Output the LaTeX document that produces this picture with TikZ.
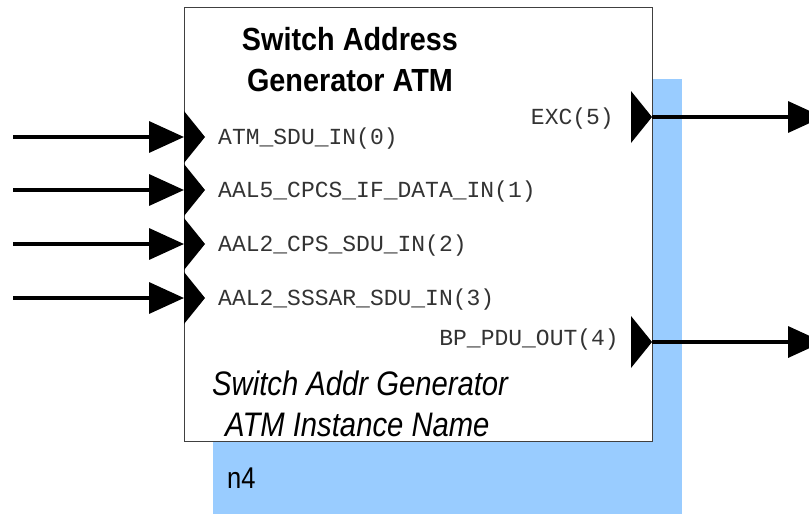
\documentclass[tikz,border=0pt]{standalone}
\usepackage{fontspec}
\setmainfont{Liberation Sans}
\setmonofont{Liberation Mono}
\usetikzlibrary{arrows.meta}
\definecolor{shadowblue}{HTML}{99CCFF}
\definecolor{boxgray}{HTML}{404040}
\newcommand{\portfont}[1]{{\fontsize{23}{23}\selectfont\ttfamily #1}}
\tikzset{
  wire/.style={line width=3.5pt, -{Triangle[length=35pt,width=31pt]}},
  portlbl/.style={text=black!80, inner sep=0pt},
  porttri/.style={fill=black},
}
\begin{document}
\begin{tikzpicture}[x=1pt,y=-1pt]
\useasboundingbox (0,0) rectangle (809,514);
% shadow and box
\node[fill=shadowblue, minimum width=469pt, minimum height=435pt, inner sep=0pt] (shadow) at (447.5,296.5) {};
\node[draw=boxgray, line width=0.8pt, fill=white, minimum width=468pt, minimum height=434pt, inner sep=0pt] (box) at (418,224) {};
% title
\node[inner sep=0pt, align=center] (title1) at (350,39) {\scalebox{0.9}[1]{\fontsize{32}{32}\selectfont\bfseries Switch Address}};
\node[inner sep=0pt, align=center] (title2) at (350,80) {\scalebox{0.9}[1]{\fontsize{32}{32}\selectfont\bfseries Generator ATM}};
% instance name
\node[inner sep=0pt, anchor=base west] (inst1) at (212,395) {\scalebox{0.86}[1]{\fontsize{34}{34}\selectfont\itshape Switch Addr Generator}};
\node[inner sep=0pt, anchor=base west] (inst2) at (225,436) {\scalebox{0.86}[1]{\fontsize{34}{34}\selectfont\itshape ATM Instance Name}};
\node[inner sep=0pt, anchor=base west] (n4) at (227,488) {\scalebox{0.85}[1]{\fontsize{30}{30}\selectfont n4}};
% input ports
\foreach \i/\y/\t in {1/137/ATM\_SDU\_IN(0), 2/190/AAL5\_CPCS\_IF\_DATA\_IN(1), 3/244/AAL2\_CPS\_SDU\_IN(2), 4/298/AAL2\_SSSAR\_SDU\_IN(3)}{
  \coordinate (s\i) at (13,\y);
  \coordinate (p\i) at (184,\y);
  \fill[porttri] (p\i) ++(0,-26) -- ++(21,26) -- ++(-21,26) -- cycle;
  \draw[wire] (s\i) -- (p\i);
  \node[portlbl, anchor=base west] (l\i) at (218,\y+7.5) {\portfont{\t}};
}
% output ports
\coordinate (o1) at (652,117);
\coordinate (e1) at (823,117);
\coordinate (o2) at (652,342);
\coordinate (e2) at (823,342);
\fill[porttri] (o1) ++(-21,-26) -- ++(21,26) -- ++(-21,26) -- cycle;
\fill[porttri] (o2) ++(-21,-26) -- ++(21,26) -- ++(-21,26) -- cycle;
\draw[wire] (o1) -- (e1);
\draw[wire] (o2) -- (e2);
\node[portlbl, anchor=base east] (lo1) at (614,124) {\portfont{EXC(5)}};
\node[portlbl, anchor=base east] (lo2) at (619,345) {\portfont{BP\_PDU\_OUT(4)}};
\end{tikzpicture}
\end{document}
